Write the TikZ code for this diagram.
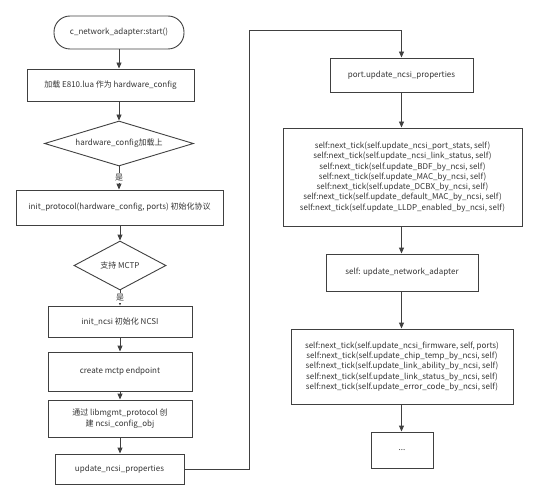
\documentclass[tikz,border=0pt]{standalone}
\usepackage{fontspec}
\setmainfont{Noto Sans CJK SC}
\usetikzlibrary{shapes.geometric,arrows.meta}

\begin{document}
\begin{tikzpicture}[x=1pt,y=-1pt,
    every node/.style={text=black!80, font=\fontsize{8}{10.3}\selectfont},
    box/.style={draw=black!75, line width=0.9pt, inner sep=0pt, align=center},
    decision/.style={diamond, draw=black!75, line width=0.9pt, inner sep=0pt},
    flow/.style={draw=black!75, line width=0.9pt, -{Triangle[length=6pt,width=5pt]}},
    yes/.style={fill=white, inner sep=1pt}]
    \useasboundingbox (0,0) rectangle (538,500);

    % Left column
    \node[box, rounded corners=16pt, minimum width=130pt, minimum height=33pt] (start) at (119,32.5) {c\_network\_adapter:start()};
    \node[box, minimum width=167pt, minimum height=32pt] (load) at (110.5,85) {加载 E810.lua 作为 hardware\_config};
    \node[decision, aspect=3.3, minimum width=149pt, minimum height=45pt] (hwok) at (119,143.5) {hardware\_config加载上};
    \node[box, minimum width=207pt, minimum height=35pt] (proto) at (119.5,207.5) {init\_protocol(hardware\_config, ports) 初始化协议};
    \node[decision, aspect=1.9, minimum width=92pt, minimum height=49pt] (mctp) at (120,265.5) {支持 MCTP};
    \node[box, minimum width=144pt, minimum height=31pt] (ncsi) at (120,321.5) {init\_ncsi 初始化 NCSI};
    \node[box, minimum width=144pt, minimum height=39pt] (endpoint) at (120,371.5) {create mctp endpoint};
    \node[box, minimum width=144pt, minimum height=37pt] (cfgobj) at (120,418.5) {通过 libmgmt\_protocol 创\\建 ncsi\_config\_obj};
    \node[box, minimum width=129pt, minimum height=30pt] (update) at (119.5,469) {update\_ncsi\_properties};

    % Right column
    \node[box, minimum width=143pt, minimum height=34pt] (port) at (401.5,75) {port.update\_ncsi\_properties};
    \node[box, minimum width=239pt, minimum height=98pt] (tickA) at (402.5,177) {self:next\_tick(self.update\_ncsi\_port\_stats, self)\\
        self:next\_tick(self.update\_ncsi\_link\_status, self)\\
        self:next\_tick(self.update\_BDF\_by\_ncsi, self)\\
        self:next\_tick(self.update\_MAC\_by\_ncsi, self)\\
        self:next\_tick(self.update\_DCBX\_by\_ncsi, self)\\
        self:next\_tick(self.update\_default\_MAC\_by\_ncsi, self)\\
        self:next\_tick(self.update\_LLDP\_enabled\_by\_ncsi, self)};
    \node[box, minimum width=152pt, minimum height=37pt] (adapter) at (402,272.5) {self: update\_network\_adapter};
    \node[box, minimum width=222pt, minimum height=75pt] (tickB) at (402,366.5) {self:next\_tick(self.update\_ncsi\_firmware, self, ports)\\
        self:next\_tick(self.update\_chip\_temp\_by\_ncsi, self)\\
        self:next\_tick(self.update\_link\_ability\_by\_ncsi, self)\\
        self:next\_tick(self.update\_link\_status\_by\_ncsi, self)\\
        self:next\_tick(self.update\_error\_code\_by\_ncsi, self)};
    \node[box, minimum width=62pt, minimum height=36pt] (more) at (402,450) {...};

    % Arrows on the left
    \draw[flow] (start.south) -- (start.south |- load.north);
    \draw[flow] (start.south |- load.south) -- (hwok.north);
    \draw[flow] (hwok.south) -- (hwok.south |- proto.north) node[yes, midway] {是};
    \draw[flow] (mctp.north |- proto.south) -- (mctp.north);
    \draw[flow] (mctp.south) -- (ncsi.north) node[yes, midway] {是};
    \draw[flow] (ncsi.south) -- (endpoint.north);
    \draw[flow] (endpoint.south) -- (cfgobj.north);
    \draw[flow] (cfgobj.south) -- (cfgobj.south |- update.north);

    % Jump to the right column
    \coordinate (bend) at (249,30);
    \draw[flow] (update.east) -| (bend) -| (port.north);

    % Arrows on the right
    \draw[flow] (port.south) -- (port.south |- tickA.north);
    \draw[flow] (port.south |- tickA.south) -- (port.south |- adapter.north);
    \draw[flow] (port.south |- adapter.south) -- (port.south |- tickB.north);
    \draw[flow] (port.south |- tickB.south) -- (port.south |- more.north);
\end{tikzpicture}
\end{document}
